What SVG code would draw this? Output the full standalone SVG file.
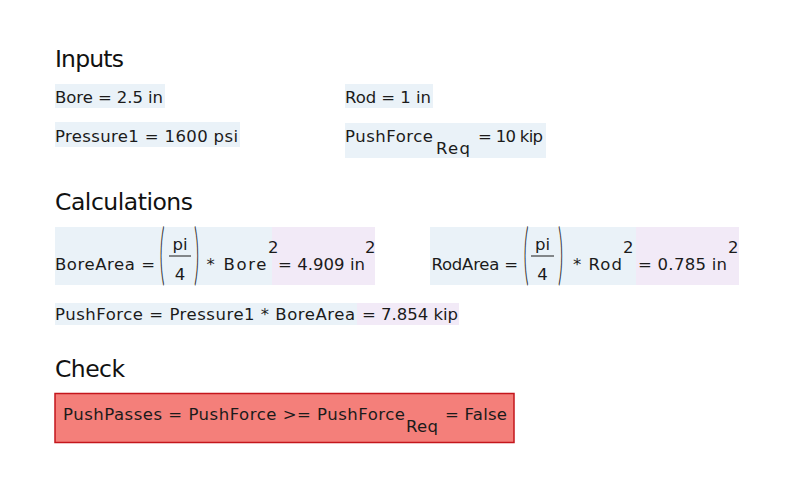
<svg xmlns="http://www.w3.org/2000/svg" width="791" height="502" viewBox="0 0 791 502">
<style>
text{font-family:"DejaVu Sans","Noto Sans",sans-serif;fill:#1b1b1b;font-size:16.5px;font-variant-ligatures:none}
.h{font-size:23.5px;fill:#111}
.in{fill:#eaf2f8}
.out{fill:#f2eaf7}
.fail{fill:#f47f7a;stroke:#c4161c;stroke-width:1.5}
.frac{stroke:#1b1b1b;stroke-width:1}
.par{font-family:Lato,sans-serif;font-size:20px;font-weight:300;fill:#2a2a2a}
.mid{text-anchor:middle}
</style>
<rect width="791" height="502" fill="#ffffff"/>

<g id="heading-inputs"><text class="h" x="55" y="67" textLength="69">Inputs</text></g>

<g id="bore">
<rect class="in" x="55" y="84" width="110" height="24"/>
<text x="55" y="103" textLength="108">Bore = 2.5 in</text>
</g>

<g id="rod">
<rect class="in" x="345" y="84" width="88" height="24"/>
<text x="345" y="103" textLength="86">Rod = 1 in</text>
</g>

<g id="pressure1">
<rect class="in" x="55" y="122" width="185" height="25"/>
<text x="55" y="142" textLength="183">Pressure1 = 1600 psi</text>
</g>

<g id="pushforce-req">
<rect class="in" x="345" y="123" width="201" height="35"/>
<text x="345" y="142" textLength="88">PushForce</text>
<text x="436" y="154" textLength="34">Req</text>
<text x="478" y="142" textLength="65">= 10 kip</text>
</g>

<g id="heading-calculations"><text class="h" x="55" y="210" textLength="138">Calculations</text></g>

<g id="borearea">
<rect class="in" x="55" y="227" width="217" height="58"/>
<rect class="out" x="272" y="227" width="103" height="58"/>
<text x="55" y="269.5" textLength="100">BoreArea =</text>
<text class="par" transform="translate(159.5,276.5) scale(1,3.4)">(</text>
<text class="mid" x="180" y="250">pi</text>
<line class="frac" x1="169" y1="256" x2="191" y2="256"/>
<text class="mid" x="180" y="280">4</text>
<text class="par" transform="translate(194,276.5) scale(1,3.4)">)</text>
<text x="206.5" y="269.5" textLength="60">* Bore</text>
<text x="268" y="253">2</text>
<text x="278" y="269.5" textLength="87">= 4.909 in</text>
<text x="365" y="253">2</text>
</g>

<g id="rodarea">
<rect class="in" x="430" y="227" width="206" height="58"/>
<rect class="out" x="636" y="227" width="103" height="58"/>
<text x="431.5" y="269.5" textLength="86.5">RodArea =</text>
<text class="par" transform="translate(523.5,276.5) scale(1,3.4)">(</text>
<text class="mid" x="542.5" y="250">pi</text>
<line class="frac" x1="531" y1="256" x2="554" y2="256"/>
<text class="mid" x="542.5" y="280">4</text>
<text class="par" transform="translate(558,276.5) scale(1,3.4)">)</text>
<text x="573" y="269.5" textLength="49">* Rod</text>
<text x="623" y="253">2</text>
<text x="638" y="269.5" textLength="89">= 0.785 in</text>
<text x="728" y="253">2</text>
</g>

<g id="pushforce">
<rect class="in" x="55" y="303" width="302" height="22"/>
<rect class="out" x="357" y="303" width="102" height="22"/>
<text x="55" y="320" textLength="300">PushForce = Pressure1 * BoreArea</text>
<text x="362" y="320" textLength="96">= 7.854 kip</text>
</g>

<g id="heading-check"><text class="h" x="55" y="377" textLength="70">Check</text></g>

<g id="pushpasses">
<rect class="fail" x="55" y="393.5" width="459" height="49"/>
<text x="63" y="420" textLength="342">PushPasses = PushForce &gt;= PushForce</text>
<text x="406" y="432" textLength="32">Req</text>
<text x="445" y="420" textLength="62">= False</text>
</g>
</svg>
